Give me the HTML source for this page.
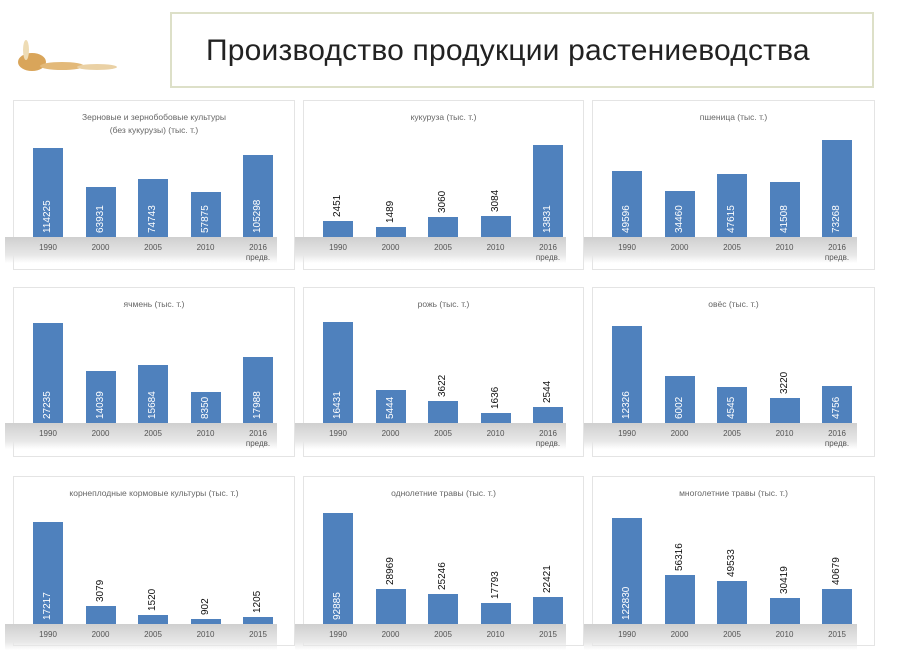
<!DOCTYPE html>
<html><head><meta charset="utf-8"><style>
body{margin:0;width:900px;height:669px;background:#fff;position:relative;overflow:hidden;font-family:"Liberation Sans",sans-serif}
.title{position:absolute;left:170px;top:12px;width:704px;height:76px;border:2px solid #dde0c8;box-sizing:border-box;font-size:30px;color:#222;line-height:74px;padding-left:34px;letter-spacing:0.2px}
.p{position:absolute;border:1px solid #e4e4e4;box-sizing:border-box}
.pt{position:absolute;left:0;right:0;text-align:center;font-size:8.5px;color:#666;line-height:12px}
.shadow{position:absolute;height:26px;background:linear-gradient(#cfcfcf,#e8e8e8 70%,rgba(255,255,255,0));}
.bar{position:absolute;width:30px;background:#4f81bd}
.v{position:absolute;font-size:10px;writing-mode:vertical-rl;transform:rotate(180deg);line-height:30px;width:30px;text-align:left}
.yr{position:absolute;width:40px;text-align:center;font-size:8px;color:#555;line-height:10px}
.wheat{position:absolute;left:12px;top:40px;width:110px;height:40px}
</style></head><body>
<svg class="wheat" viewBox="0 0 110 40"><g fill="#d9a55a"><ellipse cx="20" cy="22" rx="14" ry="9"/><ellipse cx="50" cy="26" rx="22" ry="4" fill="#e3b979"/><ellipse cx="85" cy="27" rx="20" ry="3" fill="#ead1a5"/><ellipse cx="14" cy="10" rx="3" ry="10" fill="#eedcb5"/></g></svg>
<div class="title">Производство продукции растениеводства</div>
<div id="c"></div>
<script>
const P=[
[13,100,282,170,237,89,["Зерновые и зернобобовые культуры","(без кукурузы) (тыс. т.)"],[114225,63931,74743,57875,105298],[1,1,1,1,1],1],
[303,100,281,170,237,92,["кукуруза (тыс. т.)"],[2451,1489,3060,3084,13831],[0,0,0,0,1],1],
[592,100,283,170,237,97,["пшеница (тыс. т.)"],[49596,34460,47615,41508,73268],[1,1,1,1,1],1],
[13,287,282,170,423,100,["ячмень (тыс. т.)"],[27235,14039,15684,8350,17988],[1,1,1,1,1],1],
[303,287,281,170,423,101,["рожь (тыс. т.)"],[16431,5444,3622,1636,2544],[1,1,0,0,0],1],
[592,287,283,170,423,97,["овёс (тыс. т.)"],[12326,6002,4545,3220,4756],[1,1,1,0,1],1],
[13,476,282,170,624,102,["корнеплодные кормовые культуры (тыс. т.)"],[17217,3079,1520,902,1205],[1,0,0,0,0],0],
[303,476,281,170,624,111,["однолетние травы (тыс. т.)"],[92885,28969,25246,17793,22421],[1,0,0,0,0],0],
[592,476,283,170,624,106,["многолетние травы (тыс. т.)"],[122830,56316,49533,30419,40679],[1,0,0,0,0],0]];
let h='';
P.forEach(([x,y,w,ht,base,mh,t,v,ins,pr],i)=>{
 h+=`<div class="p" style="left:${x}px;top:${y}px;width:${w}px;height:${ht}px">`;
 t.forEach((s,j)=>h+=`<div class="pt" style="top:${10+j*13}px">${s}</div>`);
 h+='</div>';
 h+=`<div class="shadow" style="left:${x-8}px;top:${base}px;width:${w-10}px"></div>`;
 const m=Math.max(...v);
 v.forEach((val,k)=>{
  const bh=Math.max(3,Math.round(val/m*mh)), bx=x+20+k*52.5;
  h+=`<div class="bar" style="left:${bx}px;top:${base-bh}px;height:${bh}px"></div>`;
  const len=String(val).length*6+4;
  if(ins[k]) h+=`<div class="v" style="left:${bx}px;top:${base-4-len}px;height:${len}px;color:#fff">${val}</div>`;
  else h+=`<div class="v" style="left:${bx}px;top:${base-bh-4-len}px;height:${len}px;color:#111">${val}</div>`;
  const yr=pr?["1990","2000","2005","2010","2016<br>предв."][k]:["1990","2000","2005","2010","2015"][k];
  h+=`<div class="yr" style="left:${bx-5}px;top:${base+6}px">${yr}</div>`;
 });
});
document.getElementById('c').innerHTML=h;
</script>
</body></html>
